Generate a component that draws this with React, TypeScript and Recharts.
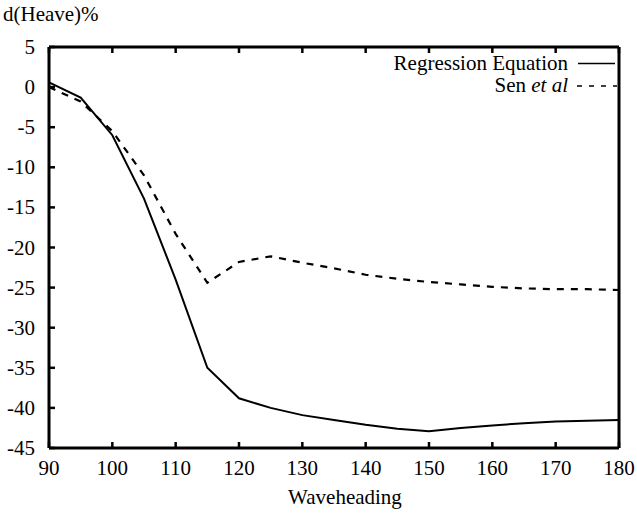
import React from 'react';
import { LineChart, Line, XAxis, YAxis, Legend, Label } from 'recharts';

const FONT = "'Liberation Serif', 'Times New Roman', serif";
const FS = 21;
const TXT: React.CSSProperties = { fontFamily: FONT, fontSize: FS, fill: '#000', stroke: 'none' };

const headings = [90, 95, 100, 105, 110, 115, 120, 125, 130, 135, 140, 145, 150, 155, 160, 165, 170, 175, 180];
const regression = [0.6, -1.3, -6.0, -13.9, -24.0, -35.0, -38.8, -40.0, -40.9, -41.5, -42.1, -42.6, -42.9, -42.5, -42.2, -41.9, -41.7, -41.6, -41.5];
const senEtAl = [0.0, -1.8, -5.5, -11.0, -18.3, -24.4, -21.8, -21.1, -21.9, -22.6, -23.4, -23.9, -24.3, -24.6, -24.9, -25.1, -25.2, -25.2, -25.3];

const xTicks = [90, 100, 110, 120, 130, 140, 150, 160, 170, 180];
const yTicks = [5, 0, -5, -10, -15, -20, -25, -30, -35, -40, -45];

const TICK_STYLE: React.CSSProperties = { stroke: '#000', strokeWidth: 2.5 };

const BottomTick = (p: any) => {
  const { x, y, payload } = p;
  return (
    <g>
      <line x1={x} x2={x} y1={y} y2={y - 6} style={TICK_STYLE} />
      <text x={x} y={y + 27} textAnchor="middle" style={TXT}>
        {payload.value}
      </text>
    </g>
  );
};

const TopTick = (p: any) => {
  const { x, y } = p;
  return <line x1={x} x2={x} y1={y} y2={y + 6} style={TICK_STYLE} />;
};

const LeftTick = (p: any) => {
  const { x, y, payload } = p;
  return (
    <g>
      <line x1={x} x2={x + 6} y1={y} y2={y} style={TICK_STYLE} />
      <text x={x - 14} y={y + 7} textAnchor="end" style={TXT}>
        {payload.value}
      </text>
    </g>
  );
};

const RightTick = (p: any) => {
  const { x, y } = p;
  return <line x1={x} x2={x - 6} y1={y} y2={y} style={TICK_STYLE} />;
};

const XTitle = (p: any) => {
  const vb = p.viewBox || { x: 49, y: 448, width: 570, height: 66 };
  return (
    <text x={vb.x + vb.width / 2 + 11} y={vb.y + 56} textAnchor="middle" style={TXT}>
      Waveheading
    </text>
  );
};

const YTitle = (p: any) => {
  const vb = p.viewBox || { x: 0, y: 47, width: 49, height: 401 };
  return (
    <text x={vb.x + 3} y={vb.y - 26} textAnchor="start" style={TXT}>
      d(Heave)%
    </text>
  );
};

const LegendContent = () => (
  <svg width={245} height={55} style={{ display: 'block', overflow: 'visible' }}>
    <text x={188} y={25} textAnchor="end" style={TXT}>
      Regression Equation
    </text>
    <line x1={198} x2={235} y1={18.5} y2={18.5} style={{ stroke: '#000', strokeWidth: 1.6 }} />
    <text x={188} y={47} textAnchor="end" style={TXT}>
      Sen <tspan style={{ fontStyle: 'italic' }}>et al</tspan>
    </text>
    <line x1={197} x2={237} y1={41} y2={41} style={{ stroke: '#000', strokeWidth: 1.6, strokeDasharray: '5 7' }} />
  </svg>
);

export default function App() {
  const data = headings.map((h, i) => ({ h, reg: regression[i], sen: senEtAl[i] }));
  const axisLine = { stroke: '#000', strokeWidth: 3 };
  return (
    <div style={{ position: 'absolute', left: 0, top: 0, width: 637, height: 514, background: '#fff', fontFamily: FONT }}>
      <LineChart width={637} height={514} data={data} margin={{ top: 46, right: 17, bottom: 0, left: 0 }}>
        <XAxis
          xAxisId="b"
          dataKey="h"
          type="number"
          domain={[90, 180]}
          ticks={xTicks}
          orientation="bottom"
          height={66}
          tickSize={0}
          tickMargin={0}
          tickLine={false}
          stroke="#000"
          strokeWidth={3}
          axisLine={axisLine}
          tick={BottomTick}
          interval={0}
        >
          <Label content={XTitle} />
        </XAxis>
        <XAxis
          xAxisId="t"
          dataKey="h"
          type="number"
          domain={[90, 180]}
          ticks={xTicks}
          orientation="top"
          height={1}
          tickSize={0}
          tickMargin={0}
          tickLine={false}
          stroke="#000"
          strokeWidth={3}
          axisLine={axisLine}
          tick={TopTick}
          interval={0}
        />
        <YAxis
          yAxisId="l"
          type="number"
          domain={[-45, 5]}
          ticks={yTicks}
          width={49}
          tickSize={0}
          tickMargin={0}
          tickLine={false}
          stroke="#000"
          strokeWidth={3}
          axisLine={axisLine}
          tick={LeftTick}
          interval={0}
        >
          <Label content={YTitle} />
        </YAxis>
        <YAxis
          yAxisId="r"
          orientation="right"
          type="number"
          domain={[-45, 5]}
          ticks={yTicks}
          width={1}
          tickSize={0}
          tickMargin={0}
          tickLine={false}
          stroke="#000"
          strokeWidth={3}
          axisLine={axisLine}
          tick={RightTick}
          interval={0}
        />
        <Legend
          layout="vertical"
          align="center"
          verticalAlign="middle"
          content={LegendContent}
          wrapperStyle={{ position: 'absolute', left: 380, top: 45, width: 245, height: 55 }}
        />
        <Line
          xAxisId="b"
          yAxisId="l"
          type="linear"
          dataKey="reg"
          stroke="#000"
          strokeWidth={2}
          dot={false}
          activeDot={false}
          isAnimationActive={false}
        />
        <Line
          xAxisId="b"
          yAxisId="l"
          type="linear"
          dataKey="sen"
          stroke="#000"
          strokeWidth={2.2}
          strokeDasharray="7 7"
          dot={false}
          activeDot={false}
          isAnimationActive={false}
        />
      </LineChart>
    </div>
  );
}
